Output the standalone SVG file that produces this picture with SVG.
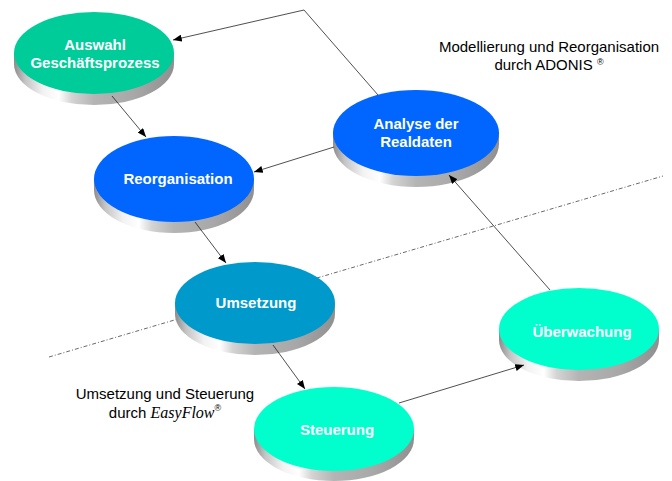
<svg xmlns="http://www.w3.org/2000/svg" width="672" height="481" viewBox="0 0 672 481">
<style>
.lbl{font-family:"Liberation Sans",Arial,sans-serif;font-size:15px;font-weight:bold;fill:#fff;text-anchor:middle}
.side{fill:url(#sideGrad)}
.conn{stroke:#222;stroke-width:0.8;fill:none}
.arr{marker-end:url(#ah)}
.note{font-family:"Liberation Sans",Arial,sans-serif;font-size:15px;fill:#000;text-anchor:middle}
.dash{stroke:#444;stroke-width:0.8;stroke-dasharray:4 2 1 2;fill:none}
</style>
<defs>
<linearGradient id="sideGrad" x1="0" y1="0" x2="1" y2="0">
<stop offset="0" stop-color="#8c8c8c"/>
<stop offset="0.07" stop-color="#c4c4c4"/>
<stop offset="0.18" stop-color="#f2f2f2"/>
<stop offset="0.28" stop-color="#ffffff"/>
<stop offset="0.36" stop-color="#d4d4d4"/>
<stop offset="0.5" stop-color="#b4b4b4"/>
<stop offset="0.75" stop-color="#a8a8a8"/>
<stop offset="1" stop-color="#909090"/>
</linearGradient>
<marker id="ah" viewBox="0 0 10 8" refX="10" refY="4" markerWidth="9" markerHeight="7" markerUnits="userSpaceOnUse" orient="auto">
<path d="M0,0 L10,4 L0,8 z" fill="#000"/>
</marker>
</defs>
<rect width="672" height="481" fill="#fff"/>

<g id="separator">
<line class="dash" x1="49" y1="357" x2="663" y2="176"/>
</g>

<g id="auswahl">
<path class="side" d="M14,53 L14,64 A80,41 0 0 0 174,64 L174,53 Z"/>
<ellipse cx="94" cy="53" rx="80" ry="41" fill="#00CC99"/>
<text class="lbl" x="95" y="50">Auswahl</text>
<text class="lbl" x="95" y="68">Geschäftsprozess</text>
</g>

<g id="analyse">
<path class="side" d="M333,133 L333,144 A83,43 0 0 0 499,144 L499,133 Z"/>
<ellipse cx="416" cy="133" rx="83" ry="43" fill="#0066FF"/>
<text class="lbl" x="416" y="129">Analyse der</text>
<text class="lbl" x="416" y="147">Realdaten</text>
</g>

<g id="reorganisation">
<path class="side" d="M94,179 L94,190 A80,43 0 0 0 254,190 L254,179 Z"/>
<ellipse cx="174" cy="179" rx="80" ry="43" fill="#0066FF"/>
<text class="lbl" x="178" y="184">Reorganisation</text>
</g>

<g id="umsetzung">
<path class="side" d="M175,303 L175,314 A80,41 0 0 0 335,314 L335,303 Z"/>
<ellipse cx="255" cy="303" rx="80" ry="41" fill="#0099CC"/>
<text class="lbl" x="256" y="308">Umsetzung</text>
</g>

<g id="steuerung">
<path class="side" d="M254,429 L254,439 A80,42 0 0 0 414,439 L414,429 Z"/>
<ellipse cx="334" cy="429" rx="80" ry="42" fill="#00FFCC"/>
<text class="lbl" x="337" y="435">Steuerung</text>
</g>

<g id="ueberwachung">
<path class="side" d="M499,329 L499,340 A80,41 0 0 0 659,340 L659,329 Z"/>
<ellipse cx="579" cy="329" rx="80" ry="41" fill="#00FFCC"/>
<text class="lbl" x="582" y="337">Überwachung</text>
</g>

<g id="connectors">
<polyline class="conn arr" points="378,95 304,10 173,40"/>
<line class="conn arr" x1="112" y1="96" x2="146" y2="137"/>
<line class="conn arr" x1="334" y1="147" x2="254" y2="172"/>
<line class="conn arr" x1="195" y1="222" x2="226" y2="263"/>
<line class="conn arr" x1="273" y1="345" x2="305" y2="389"/>
<line class="conn arr" x1="399" y1="403" x2="524" y2="365"/>
<line class="conn arr" x1="550" y1="290" x2="449" y2="175"/>
</g>

<g id="label-adonis">
<text class="note" x="549" y="52">Modellierung und Reorganisation</text>
<text class="note" x="549" y="70">durch ADONIS <tspan font-size="9" dy="-5">®</tspan></text>
</g>

<g id="label-easyflow">
<text class="note" x="165" y="399">Umsetzung und Steuerung</text>
<text class="note" x="165" y="418">durch <tspan font-family="'Liberation Serif','Times New Roman',serif" font-style="italic" font-size="16">EasyFlow</tspan><tspan font-size="9" dy="-7">®</tspan></text>
</g>
</svg>
